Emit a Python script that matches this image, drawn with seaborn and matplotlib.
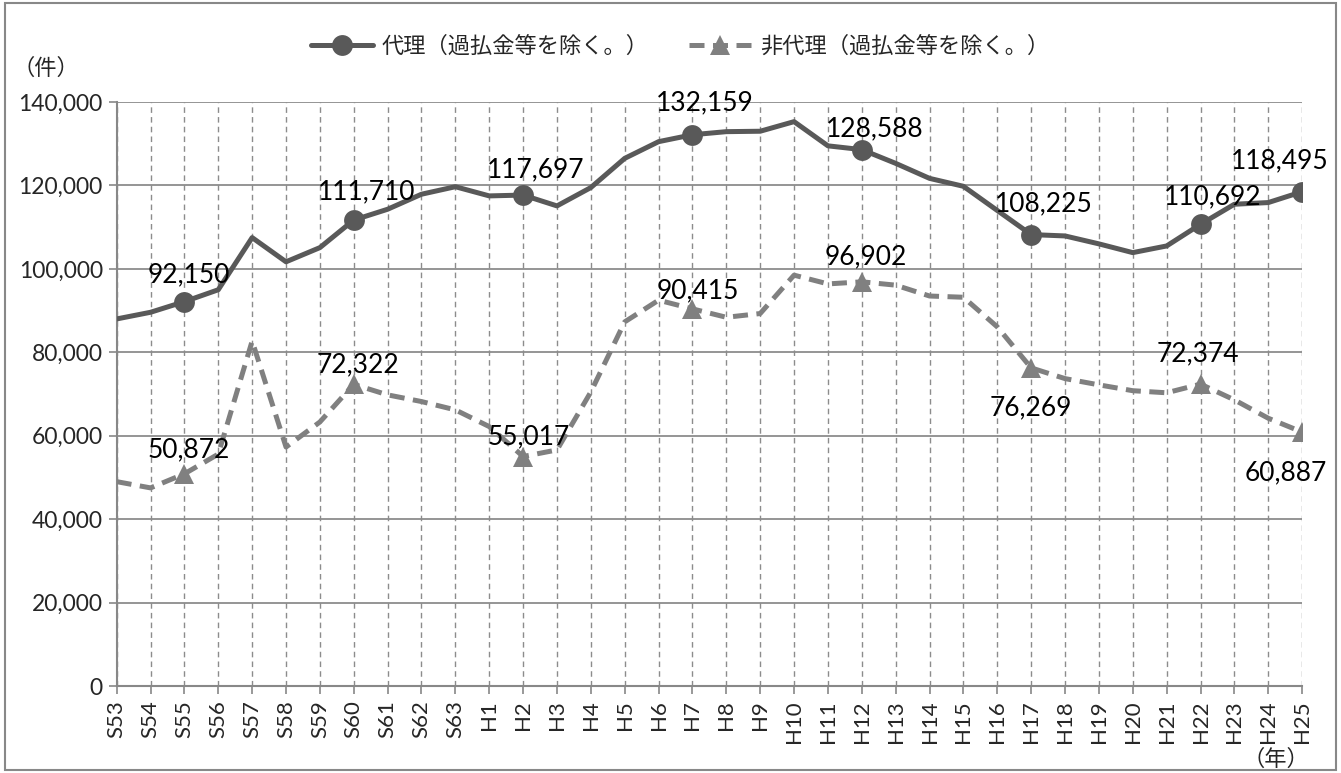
import numpy as np
import pandas as pd
import matplotlib
matplotlib.use('Agg')
import matplotlib.pyplot as plt
from matplotlib.patches import Rectangle
from matplotlib.ticker import FuncFormatter, MultipleLocator
import seaborn as sns

# years (Showa 53 .. Heisei 25)
years = ['S53', 'S54', 'S55', 'S56', 'S57', 'S58', 'S59', 'S60', 'S61', 'S62', 'S63',
         'H1', 'H2', 'H3', 'H4', 'H5', 'H6', 'H7', 'H8', 'H9', 'H10', 'H11', 'H12',
         'H13', 'H14', 'H15', 'H16', 'H17', 'H18', 'H19', 'H20', 'H21', 'H22',
         'H23', 'H24', 'H25']

agent = [88000, 89600, 92150, 95000, 107500, 101700, 105100, 111710, 114300, 117900, 119700,
         117500, 117697, 115100, 119500, 126500, 130500, 132159, 132900, 133000, 135300,
         129500, 128588, 125300, 121700, 119800, 114000, 108225, 107900, 106000, 103900,
         105500, 110692, 115500, 115900, 118495]

non_agent = [49000, 47500, 50872, 55600, 82700, 57300, 63300, 72322, 69800, 68200, 66200,
             62200, 55017, 56600, 70500, 87300, 92500, 90415, 88400, 89300, 98500,
             96400, 96902, 96100, 93500, 93200, 86100, 76269, 73700, 72200, 70800,
             70300, 72374, 68600, 64200, 60887]

label_years = ['S55', 'S60', 'H2', 'H7', 'H12', 'H17', 'H22', 'H25']

agent_name = '代理（過払金等を除く。）'
non_agent_name = '非代理（過払金等を除く。）'

df = pd.DataFrame({'year': years, 'agent': agent, 'non_agent': non_agent})
df['pos'] = np.arange(len(df))
mark_idx = [years.index(y) for y in label_years]

# label offsets in points (dx, dy) - tuned to the picture
agent_offsets = [(3, 19), (9, 20), (9, 18), (9, 23), (9, 15), (9, 22), (9, 20), (-16, 22)]
non_agent_offsets = [(3, 17), (3, 14), (4, 14), (4, 13), (3, 18), (0, -29), (-2, 22), (-12, -29)]

sns.set_style('white')
plt.rcParams['font.family'] = ['Lato', 'Noto Sans CJK JP', 'DejaVu Sans']

fig, ax = plt.subplots(figsize=(13.41, 7.73), dpi=100)
fig.subplots_adjust(left=0.087, right=0.971, top=0.868, bottom=0.1125)

dark = '#595959'
light = '#808080'

sns.lineplot(x='pos', y='agent', data=df, ax=ax, color=dark, lw=3.6, marker='o',
             markersize=15, markevery=mark_idx, markeredgewidth=0, label=agent_name,
             zorder=4)
sns.lineplot(x='pos', y='non_agent', data=df, ax=ax, color=light, lw=3.6, marker='^',
             markersize=15, markevery=mark_idx, markeredgewidth=0, label=non_agent_name,
             zorder=3)
ax.lines[1].set_dashes((3, 1.7))

for i, (dx, dy) in zip(mark_idx, agent_offsets):
    ax.annotate('{:,}'.format(agent[i]), (i, agent[i]), xytext=(dx, dy),
                textcoords='offset points', ha='center', va='center', fontsize=19,
                color='black', zorder=6)
for i, (dx, dy) in zip(mark_idx, non_agent_offsets):
    ax.annotate('{:,}'.format(non_agent[i]), (i, non_agent[i]), xytext=(dx, dy),
                textcoords='offset points', ha='center', va='center', fontsize=19,
                color='black', zorder=6)

ax.set_xlim(0, len(years) - 1)
ax.set_ylim(0, 140000)
ax.yaxis.set_major_locator(MultipleLocator(20000))
ax.yaxis.set_major_formatter(FuncFormatter(lambda v, p: '{:,}'.format(int(v))))
ax.set_xticks(df['pos'])
ax.set_xticklabels(years, rotation=90, fontsize=16)
ax.tick_params(axis='y', labelsize=16.5, length=6, color='#888888', width=1.2, pad=4, left=True)
ax.tick_params(axis='x', length=6, color='#888888', width=1.2, pad=4, bottom=True)
ax.set_xlabel('')
ax.set_ylabel('')

ax.grid(axis='y', color='#8c8c8c', lw=1.3, ls='-')
ax.grid(axis='x', color='#8c8c8c', lw=1, ls=(0, (4, 3)))
ax.set_axisbelow(True)
for s in ['top', 'right']:
    ax.spines[s].set_visible(False)
for s in ['left', 'bottom']:
    ax.spines[s].set_color('#888888')
    ax.spines[s].set_linewidth(1.5)

ax.legend(loc='center', bbox_to_anchor=(0.507, 0.94), bbox_transform=fig.transFigure, ncol=2,
          frameon=False, fontsize=16, handlelength=2.8, columnspacing=1.8, handletextpad=0.4)

fig.text(0.009, 0.912, '（件）', fontsize=16, ha='left', va='center')
fig.text(0.976, 0.018, '（年）', fontsize=16, ha='right', va='center')

fig.patches.append(Rectangle((0.004, 0.004), 0.992, 0.992, transform=fig.transFigure,
                             fill=False, edgecolor='#888888', lw=1.5))

fig.savefig('out.png', dpi=100)
